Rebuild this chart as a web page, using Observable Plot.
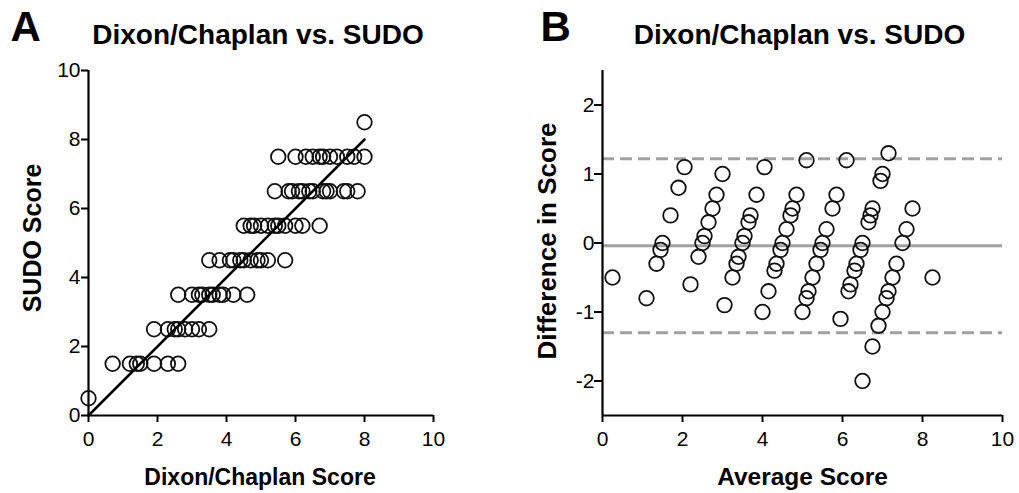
<!DOCTYPE html>
<html>
<head>
<meta charset="utf-8">
<script src="https://cdn.jsdelivr.net/npm/d3@7"></script>
<script src="https://cdn.jsdelivr.net/npm/@observablehq/plot@0.6"></script>
<style>
  body { margin: 0; background: #fff; }
  #wrap { position: relative; width: 1019px; height: 493px; overflow: hidden; background: #fff; }
  #wrap svg { position: absolute; top: 0; overflow: visible; }
</style>
</head>
<body>
<div id="wrap"></div>
<script>
// ---------- Panel A data: Dixon/Chaplan score (x) vs SUDO score (y) ----------
const dixonScore = [
  0,
  0.7, 1.2, 1.4, 1.5, 1.9, 2.3, 2.6,
  1.9, 2.3, 2.5, 2.6, 2.8, 3.0, 3.2, 3.5,
  2.6, 3.0, 3.2, 3.3, 3.5, 3.6, 3.8, 3.9, 4.2, 4.6,
  3.5, 3.8, 4.1, 4.2, 4.4, 4.5, 4.7, 4.9, 5.0, 5.2, 5.7,
  4.5, 4.7, 4.8, 5.0, 5.2, 5.4, 5.5, 5.7, 6.0, 6.2, 6.7,
  5.4, 5.8, 5.9, 6.1, 6.2, 6.4, 6.5, 6.8, 6.9, 7.0, 7.4, 7.5, 7.8,
  5.5, 6.0, 6.3, 6.5, 6.7, 6.8, 7.0, 7.2, 7.5, 7.7, 8.0,
  8.0
];
const sudoScore = [
  0.5,
  1.5, 1.5, 1.5, 1.5, 1.5, 1.5, 1.5,
  2.5, 2.5, 2.5, 2.5, 2.5, 2.5, 2.5, 2.5,
  3.5, 3.5, 3.5, 3.5, 3.5, 3.5, 3.5, 3.5, 3.5, 3.5,
  4.5, 4.5, 4.5, 4.5, 4.5, 4.5, 4.5, 4.5, 4.5, 4.5, 4.5,
  5.5, 5.5, 5.5, 5.5, 5.5, 5.5, 5.5, 5.5, 5.5, 5.5, 5.5,
  6.5, 6.5, 6.5, 6.5, 6.5, 6.5, 6.5, 6.5, 6.5, 6.5, 6.5, 6.5, 6.5,
  7.5, 7.5, 7.5, 7.5, 7.5, 7.5, 7.5, 7.5, 7.5, 7.5, 7.5,
  8.5
];
// fitted line end points
const fitX = [0, 8];
const fitY = [0, 8];

// ---------- Panel B data: Bland-Altman (average vs difference) ----------
const averageScore = [
  0.25,
  1.1, 1.35, 1.45, 1.5, 1.7, 1.9, 2.05,
  2.2, 2.4, 2.5, 2.55, 2.65, 2.75, 2.85, 3.0,
  3.05, 3.25, 3.35, 3.4, 3.5, 3.55, 3.65, 3.7, 3.85, 4.05,
  4.0, 4.15, 4.3, 4.35, 4.45, 4.5, 4.6, 4.7, 4.75, 4.85, 5.1,
  5.0, 5.1, 5.15, 5.25, 5.35, 5.45, 5.5, 5.6, 5.75, 5.85, 6.1,
  5.95, 6.15, 6.2, 6.3, 6.35, 6.45, 6.5, 6.65, 6.7, 6.75, 6.95, 7.0, 7.15,
  6.5, 6.75, 6.9, 7.0, 7.1, 7.15, 7.25, 7.35, 7.5, 7.6, 7.75,
  8.25
];
const differenceScore = [
  -0.5,
  -0.8, -0.3, -0.1, 0, 0.4, 0.8, 1.1,
  -0.6, -0.2, 0, 0.1, 0.3, 0.5, 0.7, 1.0,
  -0.9, -0.5, -0.3, -0.2, 0, 0.1, 0.3, 0.4, 0.7, 1.1,
  -1.0, -0.7, -0.4, -0.3, -0.1, 0, 0.2, 0.4, 0.5, 0.7, 1.2,
  -1.0, -0.8, -0.7, -0.5, -0.3, -0.1, 0, 0.2, 0.5, 0.7, 1.2,
  -1.1, -0.7, -0.6, -0.4, -0.3, -0.1, 0, 0.3, 0.4, 0.5, 0.9, 1.0, 1.3,
  -2.0, -1.5, -1.2, -1.0, -0.8, -0.7, -0.5, -0.3, 0, 0.2, 0.5,
  -0.5
];
const meanDifference = -0.04;
const limitsOfAgreement = [1.22, -1.30];

// tick labels
const ticksA = [0, 2, 4, 6, 8, 10];
const ticksBx = [0, 2, 4, 6, 8, 10];
const ticksBy = [-2, -1, 0, 1, 2];

const titleText = "Dixon/Chaplan vs. SUDO";

const dataA = dixonScore.map((d, i) => ({x: d, y: sudoScore[i]}));
const dataB = averageScore.map((d, i) => ({x: d, y: differenceScore[i]}));
const fitData = fitX.map((d, i) => ({x: d, y: fitY[i]}));

const FONT = "'Liberation Sans', Arial, Helvetica, sans-serif";
const tickFont = 21, titleFont = 28, letterFont = 42;
const dotOpts = {r: 7.3, stroke: "#111", strokeWidth: 1.8, fill: "none"};
const fmt = d => String(d);

function labels(letter, letterDx, yLabel, yDx, yDy, yFont, xLabel, xDx, xFont) {
  return [
    Plot.text([letter], {text: d => d, frameAnchor: "top-left", dx: letterDx, dy: -30,
      textAnchor: "start", lineAnchor: "bottom", fontSize: letterFont, fontWeight: "bold", fill: "#000"}),
    Plot.text([titleText], {text: d => d, frameAnchor: "top", dx: -3, dy: -27,
      textAnchor: "middle", lineAnchor: "bottom", fontSize: titleFont, fontWeight: "bold", fill: "#000"}),
    Plot.text([xLabel], {text: d => d, frameAnchor: "bottom", dx: xDx, dy: 69,
      textAnchor: "middle", lineAnchor: "bottom", fontSize: xFont, fontWeight: "bold", fill: "#000"}),
    Plot.text([yLabel], {text: d => d, frameAnchor: "left", dx: yDx, dy: yDy, rotate: -90,
      textAnchor: "middle", lineAnchor: "bottom", fontSize: yFont, fontWeight: "bold", fill: "#000"})
  ];
}

const plotA = Plot.plot({
  width: 509, height: 493,
  marginLeft: 88, marginRight: 76, marginTop: 70, marginBottom: 78,
  style: {fontFamily: FONT, fontSize: tickFont + "px", color: "#000", background: "transparent", overflow: "visible"},
  x: {domain: [0, 10]},
  y: {domain: [0, 10]},
  marks: [
    Plot.axisX(ticksA, {tickSize: 7, tickPadding: 9, strokeWidth: 2, fontSize: tickFont, tickFormat: fmt, label: null}),
    Plot.axisY(ticksA, {tickSize: 7, tickPadding: 1, strokeWidth: 2, fontSize: tickFont, tickFormat: fmt, label: null}),
    Plot.ruleX([0], {strokeWidth: 2.2, stroke: "#000"}),
    Plot.ruleY([0], {strokeWidth: 2.2, stroke: "#000"}),
    Plot.dot(dataA, {x: "x", y: "y", ...dotOpts}),
    Plot.line(fitData, {x: "x", y: "y", stroke: "#000", strokeWidth: 2.5}),
    ...labels("A", -78, "SUDO Score", -48, -5, 25, "Dixon/Chaplan Score", -1, 23)
  ]
});
plotA.style.left = "0px";

const plotB = Plot.plot({
  width: 510, height: 493,
  marginLeft: 93, marginRight: 17, marginTop: 70, marginBottom: 78,
  style: {fontFamily: FONT, fontSize: tickFont + "px", color: "#000", background: "transparent", overflow: "visible"},
  x: {domain: [0, 10]},
  y: {domain: [-2.5, 2.5]},
  marks: [
    Plot.ruleY([meanDifference], {stroke: "#a0a0a0", strokeWidth: 3}),
    Plot.ruleY(limitsOfAgreement, {stroke: "#a0a0a0", strokeWidth: 3, strokeDasharray: "12,6"}),
    Plot.axisX(ticksBx, {tickSize: 7, tickPadding: 9, strokeWidth: 2, fontSize: tickFont, tickFormat: fmt, label: null}),
    Plot.axisY(ticksBy, {tickSize: 8, tickPadding: 0, strokeWidth: 2, fontSize: tickFont, tickFormat: fmt, label: null}),
    Plot.ruleX([0], {strokeWidth: 2.2, stroke: "#000"}),
    Plot.ruleY([-2.5], {strokeWidth: 2.2, stroke: "#000"}),
    Plot.dot(dataB, {x: "x", y: "y", ...dotOpts}),
    ...labels("B", -62, "Difference in Score", -47, -2, 26, "Average Score", 0, 24.5)
  ]
});
plotB.style.left = "509px";

const wrap = document.getElementById("wrap");
wrap.appendChild(plotA);
wrap.appendChild(plotB);
</script>
</body>
</html>
